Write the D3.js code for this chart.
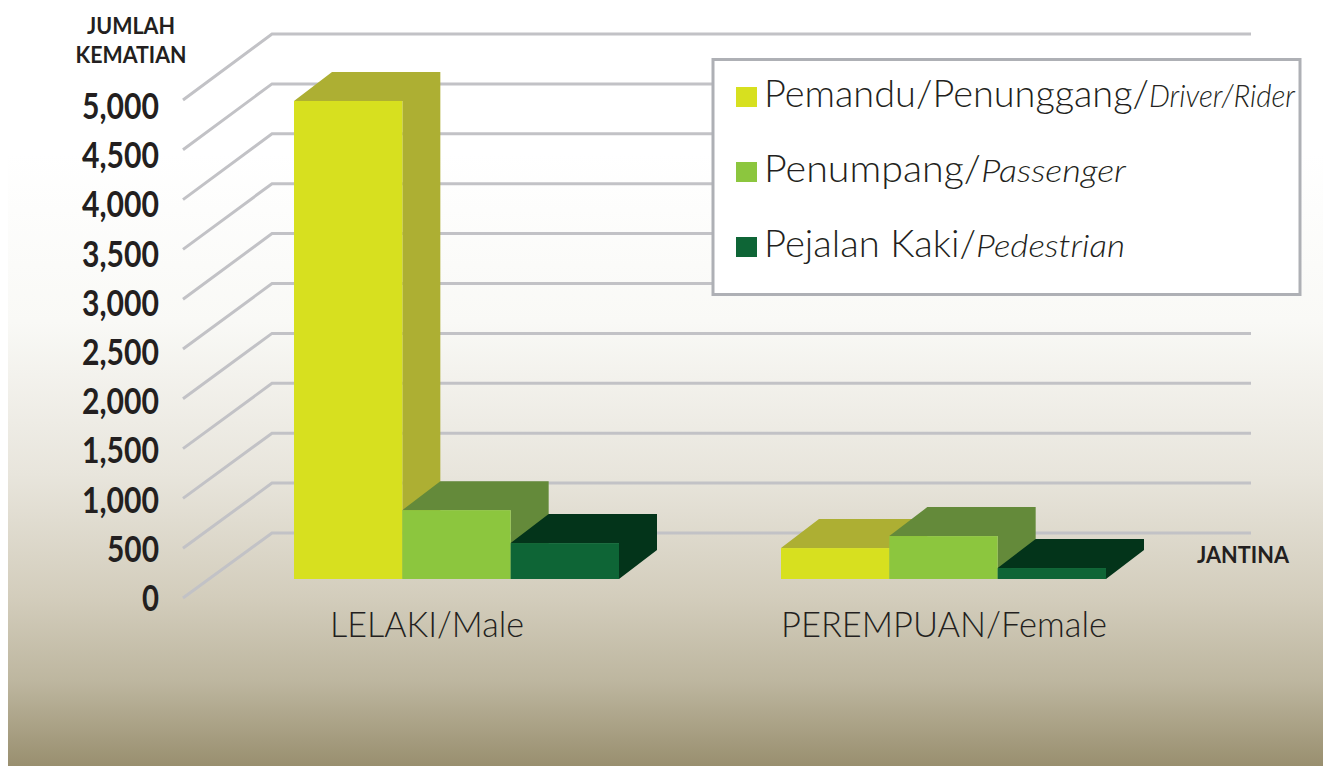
<!DOCTYPE html>
<html><head><meta charset="utf-8">
<script src="https://cdnjs.cloudflare.com/ajax/libs/d3/7.8.5/d3.min.js"></script>
<style>html,body{margin:0;padding:0;background:#fff;overflow:hidden}svg{display:block}text{font-family:Lato,"Open Sans",sans-serif;fill:#231f20}</style>
</head><body><svg id="c" width="1323" height="766"></svg>
<script>
const categories = ["LELAKI/Male", "PEREMPUAN/Female"];
const seriesKeys = ["driver", "passenger", "pedestrian"];
const driverValues = [4790, 310];
const passengerValues = [690, 430];
const pedestrianValues = [360, 110];
const yTicks = [0, 500, 1000, 1500, 2000, 2500, 3000, 3500, 4000, 4500, 5000];
const legendMain = ["Pemandu/Penunggang/", "Penumpang/", "Pejalan Kaki/"];
const legendItalic = ["Driver/Rider", "Passenger", "Pedestrian"];
const faceColors = ["#d7e01f", "#8cc63e", "#0e6536"];
const sideColors = ["#adaf33", "#648a3a", "#03341a"];
const values = [driverValues, passengerValues, pedestrianValues];

const svg = d3.select("#c");
const defs = svg.append("defs");
const grad = defs.append("linearGradient").attr("id","bg").attr("x1",0).attr("y1",0).attr("x2",0).attr("y2",1);
[[0,"#ffffff"],[0.2,"#ffffff"],[0.42,"#f9f9f6"],[0.62,"#e8e5dc"],[0.78,"#d3cdbc"],[0.89,"#bdb69f"],[1,"#998f6f"]]
  .forEach(([o,c])=>grad.append("stop").attr("offset",o).attr("stop-color",c));
svg.append("rect").attr("x",8).attr("y",0).attr("width",1315).attr("height",766).attr("fill","url(#bg)");

// scales
const yFront = d3.scaleLinear().domain([0,5000]).range([598,100]);
const yBack = d3.scaleLinear().domain([0,5000]).range([533,34]);
const yLabel = d3.scaleLinear().domain([0,5000]).range([611,119]);
const barH = d3.scaleLinear().domain([0,5000]).range([0,499]);
const x1 = d3.scaleBand().domain(seriesKeys).range([0,325]);
const baseY = 579, depthX = 38, depthY = 29;
const gx0 = {"LELAKI/Male":294,"PEREMPUAN/Female":781};
const floorX = d3.scaleLinear().domain([0,1]).range([183,272]);

// gridlines
const grid = svg.append("g").attr("fill","none").attr("stroke","#c2c2c6").attr("stroke-width",3);
grid.selectAll("path").data(yTicks).join("path")
  .attr("d",d=>`M${floorX(0)},${yFront(d)}L${floorX(1)},${yBack(d)}L1251,${yBack(d)}`);

// tick labels
svg.append("g").selectAll("text").data(yTicks).join("text")
  .attr("x",159).attr("y",d=>yLabel(d)).attr("text-anchor","end")
  .attr("font-size",36).attr("font-weight",700)
  .attr("textLength",d=>d===0?17:(d<1000?52:77)).attr("lengthAdjust","spacingAndGlyphs")
  .text(d=>d3.format(",")(d));

// bars
categories.forEach((cat,ci)=>{
  const g = svg.append("g");
  seriesKeys.forEach((k,si)=>{
    const v = values[si][ci], h = barH(v);
    const xl = gx0[cat] + x1(k), w = x1.bandwidth();
    const top = baseY - h;
    const s = g.append("g");
    s.append("path").attr("fill",sideColors[si])
      .attr("d",`M${xl},${top}L${xl+depthX},${top-depthY}L${xl+w+depthX},${top-depthY}L${xl+w+depthX},${baseY-depthY}L${xl+w},${baseY}L${xl+w},${top}Z`);
    s.append("rect").attr("fill",faceColors[si]).attr("x",xl).attr("y",top).attr("width",w).attr("height",h);
  });
});

// category labels
const catX = [330, 781], catW = [194, 326];
svg.append("g").selectAll("text").data(categories).join("text")
  .attr("x",(d,i)=>catX[i]).attr("y",637)
  .attr("font-size",35).attr("font-weight",300)
  .attr("textLength",(d,i)=>catW[i]).attr("lengthAdjust","spacingAndGlyphs")
  .text(d=>d);

// axis titles
const tt = svg.append("g").attr("font-weight",700).attr("font-size",22).attr("text-anchor","middle");
tt.append("text").attr("x",131).attr("y",34).attr("textLength",88).attr("lengthAdjust","spacingAndGlyphs").text("JUMLAH");
tt.append("text").attr("x",131).attr("y",63).attr("textLength",111).attr("lengthAdjust","spacingAndGlyphs").text("KEMATIAN");
tt.append("text").attr("x",1243).attr("y",563).attr("textLength",92).attr("lengthAdjust","spacingAndGlyphs").text("JANTINA");

// legend
svg.append("rect").attr("x",713).attr("y",59.5).attr("width",587).attr("height",235).attr("fill","#fff").attr("stroke","#aeb0b5").attr("stroke-width",3);
const ly = d3.scalePoint().domain(d3.range(3)).range([107,257]);
const mainW = [385,217,212], italW = [146,145,149];
const leg = svg.append("g").selectAll("g").data(d3.range(3)).join("g");
leg.append("rect").attr("x",736).attr("y",i=>ly(i)-20).attr("width",21).attr("height",20).attr("fill",i=>faceColors[i]);
leg.append("text").attr("x",764).attr("y",ly).attr("font-size",37).attr("font-weight",300)
  .attr("textLength",i=>mainW[i]).attr("lengthAdjust","spacingAndGlyphs").text(i=>legendMain[i]);
leg.append("text").attr("x",i=>764+mainW[i]).attr("y",ly).attr("font-size",32).attr("font-weight",300).attr("font-style","italic")
  .attr("textLength",i=>italW[i]).attr("lengthAdjust","spacingAndGlyphs").text(i=>legendItalic[i]);
</script></body></html>
